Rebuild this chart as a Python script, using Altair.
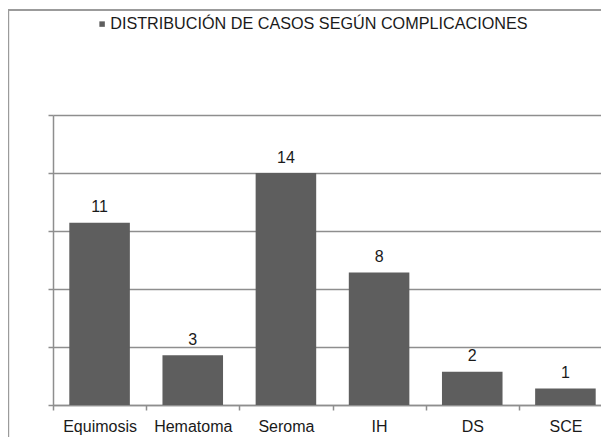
import altair as alt
import pandas as pd

categories = ["Equimosis", "Hematoma", "Seroma", "IH", "DS", "SCE"]
values = [11, 3, 14, 8, 2, 1]
series_name = "DISTRIBUCIÓN DE CASOS SEGÚN COMPLICACIONES"
y_ticks = [0, 3.5, 7, 10.5, 14, 17.5]

df = pd.DataFrame({"cat": categories, "val": values, "serie": [series_name] * len(categories)})
frame_df = pd.DataFrame({"k": [0]})

FONT = "Liberation Sans"
GRID = "#8e8e8e"
BAR = "#5e5e5e"
TXT = "#1a1a1a"
FRAME = "#9b9b9b"

x_enc = alt.X(
    "cat:N", sort=categories,
    scale=alt.Scale(paddingInner=0, paddingOuter=0),
    axis=alt.Axis(title=None, labelAngle=0, labelFontSize=16, labelColor=TXT, labelFont=FONT,
                  tickBand="extent", tickSize=5, tickColor=GRID, tickWidth=1.5,
                  domainColor=GRID, domainWidth=1.5, labelPadding=8, grid=False),
)
y_enc = alt.Y(
    "val:Q",
    scale=alt.Scale(domain=[0, 17.5], nice=False),
    axis=alt.Axis(title=None, values=y_ticks, labels=False, grid=True, gridColor=GRID,
                  gridWidth=1.5, tickSize=5, tickColor=GRID, tickWidth=1.5,
                  domainColor=GRID, domainWidth=1.5),
)

bars = alt.Chart(df).mark_bar(width=alt.RelativeBandSize(0.65)).encode(
    x=x_enc,
    y=y_enc,
    color=alt.Color(
        "serie:N",
        scale=alt.Scale(range=[BAR]),
        legend=alt.Legend(title=None, orient="none", legendX=41, legendY=-99,
                          symbolType="square", symbolSize=30, symbolStrokeWidth=0,
                          labelFontSize=16.2, labelFont=FONT, labelColor=TXT,
                          labelLimit=800, labelOffset=0, padding=0),
    ),
)

labels = alt.Chart(df).mark_text(dy=-10.5, baseline="alphabetic", fontSize=16, font=FONT, color=TXT).encode(
    x=alt.X("cat:N", sort=categories),
    y=alt.Y("val:Q"),
    text=alt.Text("val:Q"),
)

left_rule = alt.Chart(frame_df).mark_rule(color=FRAME, strokeWidth=2).encode(
    x=alt.value(-44.8), y=alt.value(-105), y2=alt.value(340)
)
top_rule = alt.Chart(frame_df).mark_rule(color=FRAME, strokeWidth=2).encode(
    x=alt.value(-45), x2=alt.value(620), y=alt.value(-105)
)

chart = alt.layer(left_rule, top_rule, bars, labels).properties(
    width=559, height=290,
    padding={"left": 45, "top": 107, "right": -11, "bottom": 32},
    autosize=alt.AutoSizeParams(type="none"),
).configure_view(strokeWidth=0)

chart.save("out.html", embed_options={"renderer": "svg", "actions": False})
